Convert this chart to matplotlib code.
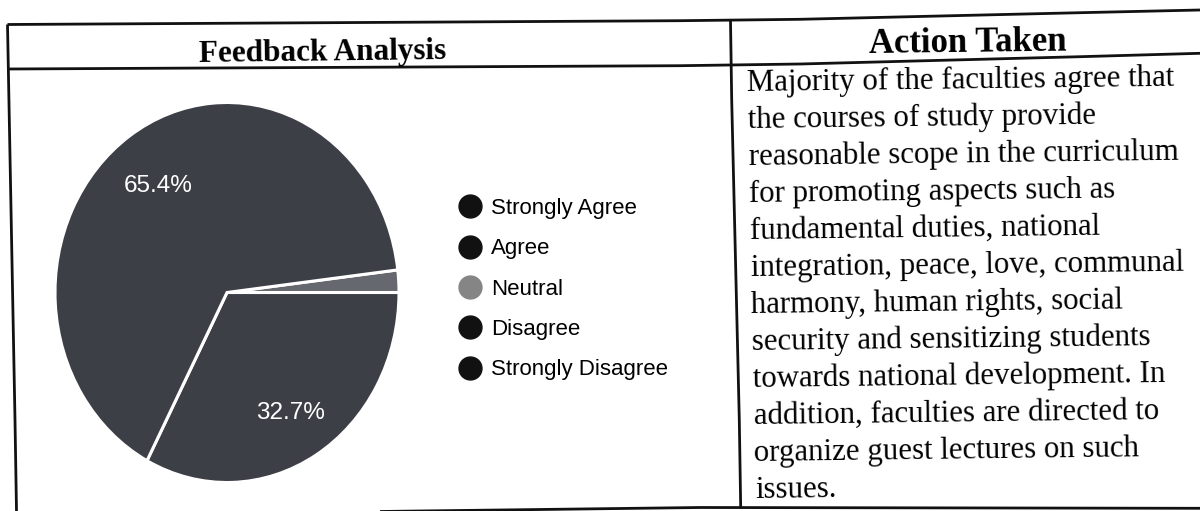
import matplotlib
matplotlib.use("Agg")
import matplotlib.pyplot as plt
from matplotlib.lines import Line2D

# ---- data ----
categories = ["Strongly Agree", "Agree", "Neutral", "Disagree", "Strongly Disagree"]
values = [65.4, 32.7, 1.9, 0.0, 0.0]
slice_colors = ["#3d3f47", "#3d3f47", "#66686f", "#3d3f47", "#3d3f47"]
legend_colors = ["#111111", "#111111", "#858585", "#111111", "#111111"]
header_left = "Feedback Analysis"
header_right = "Action Taken"
action_lines = [
    "Majority of the faculties agree that",
    "the courses of study provide",
    "reasonable scope in the curriculum",
    "for promoting aspects such as",
    "fundamental duties, national",
    "integration, peace, love, communal",
    "harmony, human rights, social",
    "security and sensitizing students",
    "towards national development. In",
    "addition, faculties are directed to",
    "organize guest lectures on such",
    "issues.",
]

W, H = 1200, 511
fig = plt.figure(figsize=(W / 100, H / 100), dpi=100)
fig.patch.set_facecolor("white")

# overlay axes in pixel coordinates (y down)
ov = fig.add_axes([0, 0, 1, 1])
ov.set_xlim(0, W)
ov.set_ylim(H, 0)
ov.axis("off")

lw = 2.0
# table lines (scanned page is slightly skewed)
ov.plot([7.5, 680, 800, 1080, 1200], [24.5, 20.7, 19.3, 12.7, 10.0], color="#111", lw=lw, solid_capstyle="butt")
ov.plot([7.5, 680, 800, 1080, 1200], [69.0, 65.7, 64.0, 56.7, 53.3], color="#111", lw=lw, solid_capstyle="butt")
ov.plot([7.5, 15.0, 16.5], [24.5, 420, 511], color="#111", lw=lw, solid_capstyle="butt")
ov.plot([730.5, 731.7, 739.3, 740.7], [20.5, 100, 420, 508], color="#111", lw=lw, solid_capstyle="butt")
ov.plot([380, 700, 1200], [511.5, 507.5, 508.3], color="#111", lw=lw, solid_capstyle="butt")

rot = 0.7
serif = "Liberation Serif"
ov.text(323, 60, header_left, fontsize=22.5, fontweight="bold", family=serif,
        ha="center", va="baseline", rotation=rot, rotation_mode="anchor")
ov.text(968, 51.5, header_right, fontsize=25, fontweight="bold", family=serif,
        ha="center", va="baseline", rotation=rot, rotation_mode="anchor")

for i, line in enumerate(action_lines):
    ov.text(747 + i * 0.72, 90.7 + i * 37.0, line, fontsize=22.2, family=serif,
            ha="left", va="baseline", rotation=rot, rotation_mode="anchor")

# ---- pie ----
cx, cy, rx, ry = 227, 292.5, 172, 190
pax = fig.add_axes([(cx - rx) / W, 1 - (cy + ry) / H, 2 * rx / W, 2 * ry / H])
# drawing order: Agree, Neutral, Strongly Agree (counter-clockwise)
order = [1, 2, 0]
pv = [values[k] for k in order]
pc = [slice_colors[k] for k in order]
start = -360.0 * values[1] / sum(values)
wedges, texts, autotexts = pax.pie(
    pv, colors=pc, startangle=start, counterclock=True,
    autopct=lambda p: f"{p:.1f}%" if p > 5 else "",
    pctdistance=0.71,
    wedgeprops=dict(edgecolor="white", linewidth=2.2),
    textprops=dict(color="white", fontsize=17.5, family="Liberation Sans"),
)
for t in autotexts:
    x, y = t.get_position()
    t.set_position((x, y - 0.024))
pax.set_aspect("auto")
pax.set_xlim(-1, 1)
pax.set_ylim(-1, 1)
pax.axis("off")

# legend
handles = [Line2D([], [], marker="o", linestyle="none", markersize=16.5,
                  markerfacecolor=c, markeredgecolor=c) for c in legend_colors]
fig.legend(handles, categories, loc="upper left",
           bbox_to_anchor=(459 / W, 1 - 198 / H), frameon=False,
           prop=dict(family="Liberation Sans", size=16),
           handlelength=1.0, handletextpad=0.45, labelspacing=0.87,
           borderpad=0, borderaxespad=0)

fig.savefig("out.png", dpi=100, facecolor="white")
